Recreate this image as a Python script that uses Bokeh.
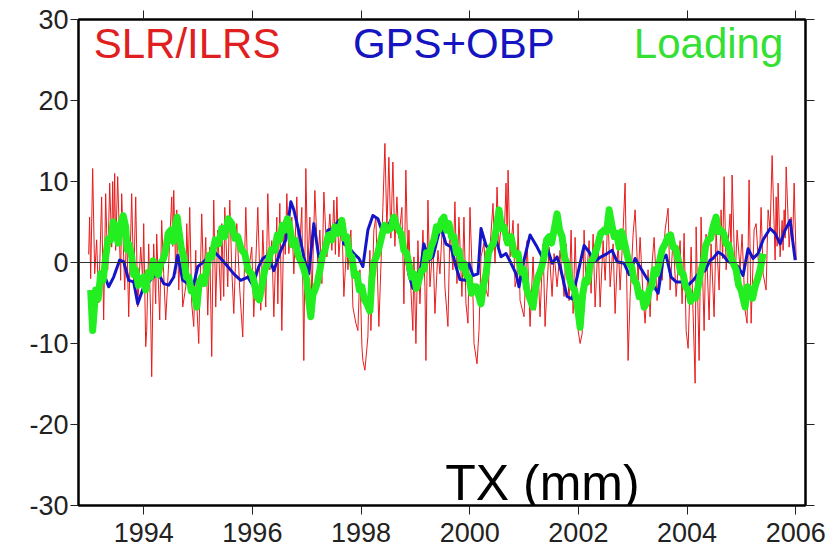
from bokeh.plotting import figure
from bokeh.models import Range1d, LinearAxis, FixedTicker, Label, Span
from bokeh.embed import file_html
from bokeh.resources import INLINE

# ---- data ----
slr_year = [1992.987,1993.005,1993.024,1993.061,1993.098,1993.134,1993.171,1993.226,1993.263,1993.300,
 1993.337,1993.374,1993.411,1993.429,1993.447,1993.466,1993.484,1993.521,1993.576,1993.595,
 1993.650,1993.687,1993.724,1993.779,1993.816,1993.853,1993.890,1993.945,1993.982,1994.000,
 1994.037,1994.055,1994.092,1994.129,1994.147,1994.184,1994.221,1994.239,1994.295,1994.331,
 1994.368,1994.405,1994.460,1994.516,1994.534,1994.553,1994.589,1994.608,1994.645,1994.681,
 1994.718,1994.774,1994.792,1994.820,1994.847,1994.884,1994.921,1994.958,1994.976,1995.013,
 1995.068,1995.105,1995.142,1995.179,1995.216,1995.252,1995.289,1995.326,1995.363,1995.418,
 1995.437,1995.473,1995.492,1995.547,1995.584,1995.621,1995.658,1995.713,1995.768,1995.823,
 1995.879,1995.916,1995.989,1996.026,1996.100,1996.155,1996.192,1996.247,1996.284,1996.321,
 1996.358,1996.395,1996.450,1996.468,1996.505,1996.542,1996.579,1996.606,1996.634,1996.671,
 1996.726,1996.763,1996.818,1996.855,1996.910,1996.947,1996.984,1997.021,1997.058,1997.095,
 1997.150,1997.205,1997.242,1997.279,1997.316,1997.371,1997.426,1997.463,1997.500,1997.528,
 1997.555,1997.592,1997.647,1997.684,1997.739,1997.758,1997.813,1997.850,1997.905,1997.942,
 1997.979,1998.016,1998.034,1998.071,1998.126,1998.163,1998.181,1998.236,1998.273,1998.328,
 1998.402,1998.439,1998.476,1998.512,1998.549,1998.586,1998.623,1998.660,1998.696,1998.752,
 1998.789,1998.825,1998.862,1998.881,1998.918,1998.954,1998.973,1999.010,1999.047,1999.084,
 1999.139,1999.176,1999.194,1999.231,1999.268,1999.323,1999.360,1999.415,1999.452,1999.507,
 1999.544,1999.599,1999.636,1999.691,1999.728,1999.765,1999.802,1999.857,1999.894,1999.931,
 1999.968,2000.005,2000.060,2000.079,2000.134,2000.171,2000.208,2000.263,2000.300,2000.337,
 2000.374,2000.429,2000.466,2000.503,2000.540,2000.595,2000.632,2000.669,2000.688,2000.706,
 2000.743,2000.798,2000.835,2000.871,2000.890,2000.927,2001.000,2001.056,2001.111,2001.166,
 2001.203,2001.258,2001.295,2001.350,2001.387,2001.461,2001.516,2001.553,2001.608,2001.663,
 2001.737,2001.774,2001.829,2001.866,2001.903,2001.940,2001.995,2002.032,2002.069,2002.105,
 2002.142,2002.197,2002.234,2002.271,2002.308,2002.363,2002.400,2002.455,2002.492,2002.547,
 2002.584,2002.639,2002.676,2002.731,2002.768,2002.823,2002.860,2002.915,2002.952,2003.007,
 2003.044,2003.099,2003.136,2003.191,2003.228,2003.283,2003.320,2003.357,2003.394,2003.449,
 2003.504,2003.541,2003.596,2003.651,2003.688,2003.744,2003.799,2003.872,2003.909,2003.946,
 2003.983,2004.020,2004.075,2004.149,2004.167,2004.222,2004.258,2004.314,2004.350,2004.406,
 2004.442,2004.498,2004.534,2004.590,2004.626,2004.655,2004.682,2004.719,2004.792,2004.810,
 2004.829,2004.884,2004.921,2004.976,2005.013,2005.068,2005.105,2005.142,2005.179,2005.234,
 2005.271,2005.326,2005.363,2005.400,2005.455,2005.492,2005.529,2005.566,2005.621,2005.640,
 2005.658,2005.676,2005.713,2005.750,2005.768,2005.787,2005.805,2005.824,2005.879,2005.916,
 2005.944,2005.971,2006.008]
slr_tx = [1.0,5.6,-2.0,11.6,-1.4,2.8,-5.0,8.1,-7.1,8.5,
 -0.9,9.8,1.9,10.0,3.0,11.0,1.5,10.6,-2.2,8.5,
 -3.4,4.0,-6.7,8.5,-2.6,8.1,-5.5,1.9,-2.2,4.8,
 -10.4,-8.4,2.3,-6.7,-14.1,2.3,-5.1,3.5,-7.1,5.2,
 -1.4,-7.1,-0.1,8.1,2.0,8.9,-1.4,6.5,-3.4,4.0,
 -5.5,-3.0,4.8,-1.0,6.8,-5.1,-7.9,1.5,-5.1,-10.0,
 6.0,-3.0,3.1,-6.5,1.9,-11.6,7.7,-5.5,4.0,-4.7,
 4.8,-4.2,6.8,-3.0,7.7,-0.9,-6.3,4.8,-3.4,-9.2,
 6.8,-1.8,1.9,-6.7,6.8,-5.9,4.0,-5.5,8.5,-0.9,
 2.7,-6.7,5.6,-5.1,7.3,-8.4,5.2,1.0,8.5,1.1,
 5.6,-1.4,8.1,-0.1,6.8,-12.1,11.6,-0.9,5.6,-4.7,
 8.9,-0.1,4.0,-2.6,8.7,0.7,6.0,1.5,7.7,1.0,
 8.1,0.7,5.6,-4.2,2.7,-0.9,4.0,-5.5,-7.5,-8.4,
 -0.9,-10.4,-12.1,-13.3,-9.2,1.5,-8.4,4.0,5.6,-7.9,
 6.8,14.7,4.0,13.0,3.0,12.4,2.0,8.1,3.0,6.8,
 -5.1,11.4,-0.1,4.0,-3.4,-8.4,0.7,-10.0,2.7,-5.1,
 4.0,-3.0,-12.1,7.7,-3.0,2.3,-6.3,1.5,-1.4,6.0,
 -3.0,-7.9,4.0,-0.9,7.5,-2.6,5.6,-4.2,5.6,-5.1,
 -7.5,6.8,-4.2,-10.0,-12.5,-8.4,0.7,2.4,-3.4,-4.2,
 1.9,7.3,-0.1,9.3,1.9,5.6,2.7,9.8,3.0,11.4,
 0.7,5.2,-3.0,-1.8,4.8,-4.7,-6.7,2.7,-7.9,0.7,
 -5.9,-0.9,-6.7,2.3,-7.9,1.9,-4.2,1.1,-3.0,1.5,
 -4.2,2.3,-4.7,4.0,-6.3,3.1,-8.4,-10.0,-8.8,4.0,
 -3.0,2.7,-3.8,3.5,-5.5,2.7,-5.5,2.7,-2.2,6.0,
 -3.0,2.3,-6.3,2.7,-3.4,4.0,9.8,-12.1,-4.2,3.5,
 6.5,-2.2,3.1,-4.2,-7.5,-0.9,-6.7,-0.1,3.1,-4.7,
 1.1,-2.2,4.0,6.7,-3.4,3.1,-4.2,2.7,-5.1,3.6,
 -8.4,-10.6,1.9,-14.9,4.4,-12.1,5.6,-8.4,3.5,-7.1,
 2.3,-6.7,4.0,-3.4,6.5,0.5,10.6,-0.9,6.0,1.0,
 10.8,-2.2,4.0,-0.9,3.5,-5.9,-7.5,10.2,-7.5,4.0,
 4.8,-1.4,6.8,-1.4,-3.4,6.5,4.0,13.2,0.3,8.1,
 2.0,9.8,0.7,5.2,1.5,6.5,3.0,11.8,1.9,5.6,
 2.5,9.8,0.3]

gps_year = [1993.300,1993.355,1993.447,1993.558,1993.632,1993.724,1993.816,1993.890,1994.000,1994.092,
 1994.258,1994.368,1994.460,1994.553,1994.626,1994.718,1994.810,1994.921,1994.995,1995.105,
 1995.197,1995.289,1995.418,1995.547,1995.658,1995.786,1995.916,1996.008,1996.118,1996.192,
 1996.284,1996.395,1996.524,1996.616,1996.708,1996.763,1996.837,1996.947,1997.039,1997.131,
 1997.223,1997.316,1997.389,1997.481,1997.592,1997.684,1997.776,1997.868,1997.960,1998.034,
 1998.126,1998.218,1998.310,1998.402,1998.494,1998.586,1998.678,1998.733,1998.807,1998.881,
 1998.954,1999.047,1999.102,1999.157,1999.249,1999.323,1999.415,1999.470,1999.563,1999.655,
 1999.747,1999.820,1999.913,1999.986,2000.060,2000.153,2000.208,2000.300,2000.392,2000.484,
 2000.577,2000.669,2000.761,2000.853,2000.908,2001.000,2001.111,2001.240,2001.332,2001.424,
 2001.516,2001.608,2001.663,2001.792,2001.884,2001.976,2002.105,2002.197,2002.289,2002.418,
 2002.529,2002.621,2002.713,2002.842,2002.934,2003.044,2003.155,2003.265,2003.394,2003.468,
 2003.560,2003.614,2003.707,2003.799,2003.928,2004.020,2004.112,2004.204,2004.333,2004.425,
 2004.479,2004.571,2004.663,2004.755,2004.847,2004.939,2005.031,2005.123,2005.215,2005.307,
 2005.400,2005.529,2005.621,2005.713,2005.805,2005.897,2005.990]
gps_tx = [-2.0,-3.0,-1.8,0.3,0.1,-2.2,-2.4,-5.1,-3.0,-2.4,
 -1.2,-2.6,-2.8,-1.8,0.9,-2.2,-2.6,-2.7,-0.5,0.1,
 0.7,1.4,0.5,-0.5,-1.4,-2.2,-1.8,-2.8,-0.5,0.5,
 0.9,-1.0,1.5,2.8,7.5,6.5,4.4,0.7,-1.4,4.8,
 0.7,1.5,4.0,4.2,5.2,2.3,1.9,1.1,0.5,-0.5,
 4.0,5.8,5.4,3.6,4.4,5.8,4.4,3.8,1.5,-1.5,
 -3.2,-1.4,-0.5,2.3,0.3,0.7,3.2,4.4,2.3,1.9,
 -0.5,-2.1,-2.2,-0.1,-1.6,-1.4,4.2,2.1,1.4,2.8,
 0.7,1.1,-0.1,-1.4,-3.0,0.3,3.4,1.9,0.7,1.9,
 -0.1,0.7,-0.5,-4.2,-4.5,-1.8,2.1,1.3,0.1,0.7,
 1.1,1.5,0.1,-0.1,-1.5,0.5,-0.8,-2.0,-3.0,-3.8,
 0.5,0.9,-1.8,-2.4,-2.4,-2.8,-2.2,-1.4,-1.0,0.3,
 0.5,1.3,0.9,0.1,-0.1,-0.5,-1.6,1.7,0.5,1.1,
 2.8,4.2,3.6,2.3,4.0,5.2,0.3]

# Loading series as (decimal year, TX mm) pairs
loading_pts = [
 (1993.024,-3.4),(1993.061,-8.4),(1993.116,-3.4),(1993.162,-4.5),(1993.208,-1.4),(1993.254,-2.2),
 (1993.300,0.7),(1993.346,2.9),(1993.392,2.8),(1993.438,5.0),(1993.484,4.0),(1993.530,2.4),
 (1993.576,4.8),(1993.622,5.8),(1993.668,4.4),(1993.696,1.6),(1993.724,2.3),(1993.779,0.7),
 (1993.816,-1.5),(1993.853,-0.9),(1993.899,-2.8),(1993.945,-2.2),(1993.991,-1.8),(1994.037,-3.4),
 (1994.083,-1.2),(1994.129,-1.8),(1994.175,0.2),(1994.221,-0.9),(1994.267,-1.5),(1994.313,-0.1),
 (1994.359,0.4),(1994.405,1.5),(1994.451,3.6),(1994.497,4.0),(1994.543,2.6),(1994.589,4.8),
 (1994.617,5.6),(1994.645,4.0),(1994.691,1.8),(1994.737,0.7),(1994.783,-1.8),(1994.829,-1.8),
 (1994.875,-3.5),(1994.921,-3.4),(1994.976,-5.5),(1995.022,-2.5),(1995.068,-1.8),(1995.114,-2.6),
 (1995.160,-0.9),(1995.206,0.9),(1995.252,0.7),(1995.316,2.8),(1995.381,2.3),(1995.437,4.2),
 (1995.492,3.2),(1995.556,5.4),(1995.621,4.8),(1995.676,3.0),(1995.731,3.2),(1995.795,1.6),
 (1995.860,1.1),(1995.925,-1.0),(1995.989,-1.4),(1996.035,-2.5),(1996.081,-4.2),(1996.127,-4.6),
 (1996.173,-3.0),(1996.229,-0.9),(1996.284,-0.1),(1996.349,1.6),(1996.413,1.5),(1996.459,3.4),
 (1996.505,2.8),(1996.551,4.6),(1996.597,4.0),(1996.643,5.4),(1996.689,4.4),(1996.735,2.2),
 (1996.781,2.8),(1996.846,0.8),(1996.910,-0.1),(1996.956,-1.0),(1997.002,-2.2),(1997.039,-4.8),
 (1997.076,-6.7),(1997.113,-4.0),(1997.150,-3.4),(1997.196,-2.5),(1997.242,-0.9),(1997.288,0.8),
 (1997.334,1.5),(1997.399,3.4),(1997.463,2.8),(1997.518,4.4),(1997.573,3.6),(1997.610,4.2),
 (1997.647,5.2),(1997.693,3.0),(1997.739,3.2),(1997.785,1.0),(1997.831,0.7),(1997.877,-1.6),
 (1997.923,-1.4),(1997.970,-3.4),(1998.016,-3.0),(1998.062,-4.6),(1998.108,-5.1),(1998.163,-6.0),
 (1998.200,-2.0),(1998.236,0.0),(1998.301,1.0),(1998.365,2.8),(1998.430,4.6),(1998.494,4.0),
 (1998.549,4.2),(1998.604,5.6),(1998.650,4.6),(1998.696,4.0),(1998.743,3.5),(1998.789,1.5),
 (1998.835,1.2),(1998.881,-0.1),(1998.927,-1.8),(1998.973,-1.4),(1999.019,-3.2),(1999.065,-2.2),
 (1999.111,-1.0),(1999.157,-0.9),(1999.203,1.2),(1999.249,0.7),(1999.295,2.0),(1999.341,2.8),
 (1999.388,4.4),(1999.434,4.0),(1999.480,5.2),(1999.526,5.6),(1999.572,4.0),(1999.618,4.8),
 (1999.664,3.2),(1999.710,3.2),(1999.756,1.2),(1999.802,1.5),(1999.848,-0.6),(1999.894,-0.1),
 (1999.940,-1.6),(1999.986,-1.8),(2000.033,-3.8),(2000.079,-3.0),(2000.125,-3.0),(2000.171,-4.2),
 (2000.208,-5.1),(2000.254,-2.8),(2000.300,-1.4),(2000.346,1.2),(2000.392,1.9),(2000.438,2.4),
 (2000.484,4.0),(2000.540,6.5),(2000.586,4.2),(2000.632,4.4),(2000.697,2.4),(2000.761,3.2),
 (2000.826,1.0),(2000.890,1.1),(2000.945,-1.2),(2001.000,-0.9),(2001.046,-3.2),(2001.092,-4.2),
 (2001.166,-5.5),(2001.212,-3.0),(2001.258,-1.8),(2001.314,-0.8),(2001.369,0.7),(2001.415,2.8),
 (2001.461,3.2),(2001.507,2.4),(2001.553,4.0),(2001.608,6.0),(2001.654,4.0),(2001.700,3.2),
 (2001.746,0.6),(2001.792,-0.1),(2001.838,-2.0),(2001.884,-3.0),(2001.930,-3.4),(2001.976,-5.1),
 (2002.032,-8.0),(2002.078,-4.0),(2002.124,-2.2),(2002.170,-2.4),(2002.216,-0.1),(2002.281,0.6),
 (2002.345,1.9),(2002.410,3.6),(2002.474,4.0),(2002.520,3.8),(2002.566,6.5),(2002.612,4.8),
 (2002.658,3.2),(2002.704,3.6),(2002.750,1.9),(2002.796,3.8),(2002.842,2.7),(2002.888,1.2),
 (2002.934,-0.1),(2002.980,-0.5),(2003.026,-2.2),(2003.072,-2.6),(2003.118,-4.2),(2003.164,-3.8),
 (2003.210,-5.5),(2003.256,-5.0),(2003.302,-3.4),(2003.348,-3.0),(2003.394,-0.9),(2003.440,-1.4),
 (2003.486,-0.1),(2003.541,1.6),(2003.596,2.3),(2003.651,3.2),(2003.697,3.4),(2003.744,1.9),
 (2003.790,1.8),(2003.836,0.3),(2003.882,-1.2),(2003.928,-1.4),(2003.974,-3.0),(2004.020,-3.4),
 (2004.066,-4.8),(2004.112,-4.2),(2004.158,-4.4),(2004.204,-3.0),(2004.250,-1.2),(2004.296,-0.1),
 (2004.342,2.0),(2004.388,2.8),(2004.434,3.0),(2004.479,4.4),(2004.534,5.6),(2004.580,3.8),
 (2004.626,4.0),(2004.673,3.6),(2004.719,2.3),(2004.765,2.2),(2004.811,0.7),(2004.857,-0.2),
 (2004.903,-0.9),(2004.949,-2.8),(2004.995,-3.4),(2005.068,-5.5),(2005.114,-3.0),(2005.160,-3.4),
 (2005.206,-4.4),(2005.252,-3.0),(2005.298,-2.0),(2005.344,-0.9),(2005.400,1.1)]
load_year = [pt[0] for pt in loading_pts]
load_tx = [pt[1] for pt in loading_pts]

y_ticks = [-30, -20, -10, 0, 10, 20, 30]
x_ticks = [1994, 1996, 1998, 2000, 2002, 2004, 2006]
series_names = ["SLR/ILRS", "GPS+OBP", "Loading"]
title_text = "TX (mm)"

FONT = "Liberation Sans"

p = figure(width=830, height=555, output_backend="svg", toolbar_location=None,
           x_range=Range1d(1992.8, 2006.18), y_range=Range1d(-30, 30),
           x_axis_location=None, y_axis_location=None,
           min_border_left=78, min_border_right=25, min_border_top=19, min_border_bottom=50)
p.grid.visible = False
p.background_fill_color = "white"
p.border_fill_color = "white"
p.outline_line_color = "black"
p.outline_line_width = 2


def style_axis(ax, show_labels):
    ax.axis_line_color = "black"
    ax.axis_line_width = 2
    ax.major_tick_line_color = "#222222"
    ax.major_tick_line_width = 1
    ax.major_tick_out = 9
    ax.major_tick_in = 0
    ax.minor_tick_line_color = None
    if show_labels:
        ax.major_label_text_font = FONT
        ax.major_label_text_font_size = "27px"
        ax.major_label_text_color = "#222222"
        ax.major_label_standoff = 5
    else:
        ax.major_label_text_font_size = "8px"
        ax.major_label_standoff = 0


left = LinearAxis(ticker=FixedTicker(ticks=y_ticks),
                  major_label_overrides={t: str(t) for t in y_ticks})
style_axis(left, True)
left.major_tick_out = 8
left.major_label_standoff = 2
p.add_layout(left, "left")

bottom = LinearAxis(ticker=FixedTicker(ticks=x_ticks),
                    major_label_overrides={t: str(t) for t in x_ticks})
style_axis(bottom, True)
bottom.major_label_standoff = 8
p.add_layout(bottom, "below")

top = LinearAxis(ticker=FixedTicker(ticks=x_ticks),
                 major_label_overrides={t: "" for t in x_ticks})
style_axis(top, False)
p.add_layout(top, "above")

right = LinearAxis(ticker=FixedTicker(ticks=y_ticks),
                   major_label_overrides={t: "" for t in y_ticks})
style_axis(right, False)
p.add_layout(right, "right")

p.add_layout(Span(location=0, dimension="width", line_color="#333333", line_width=1))

p.line(slr_year, slr_tx, line_color="#e81c1c", line_width=1)
p.line(gps_year, gps_tx, line_color="#1414c8", line_width=3, line_join="round")
p.line(load_year, load_tx, line_color="#22ee22", line_width=7, line_join="round")

colors = ["#e02020", "#1414c0", "#33e033"]
xpos = [1993.08, 1997.85, 2003.02]
for name, c, xp in zip(series_names, colors, xpos):
    p.add_layout(Label(x=xp, y=27.0, text=name, text_color=c, text_font=FONT,
                       text_font_size="42px", text_baseline="alphabetic"))

p.add_layout(Label(x=1999.55, y=-27.2, text=title_text, text_color="black", text_font=FONT,
                   text_font_size="50px", text_baseline="alphabetic"))

open("out.html", "w").write(file_html(p, INLINE))
